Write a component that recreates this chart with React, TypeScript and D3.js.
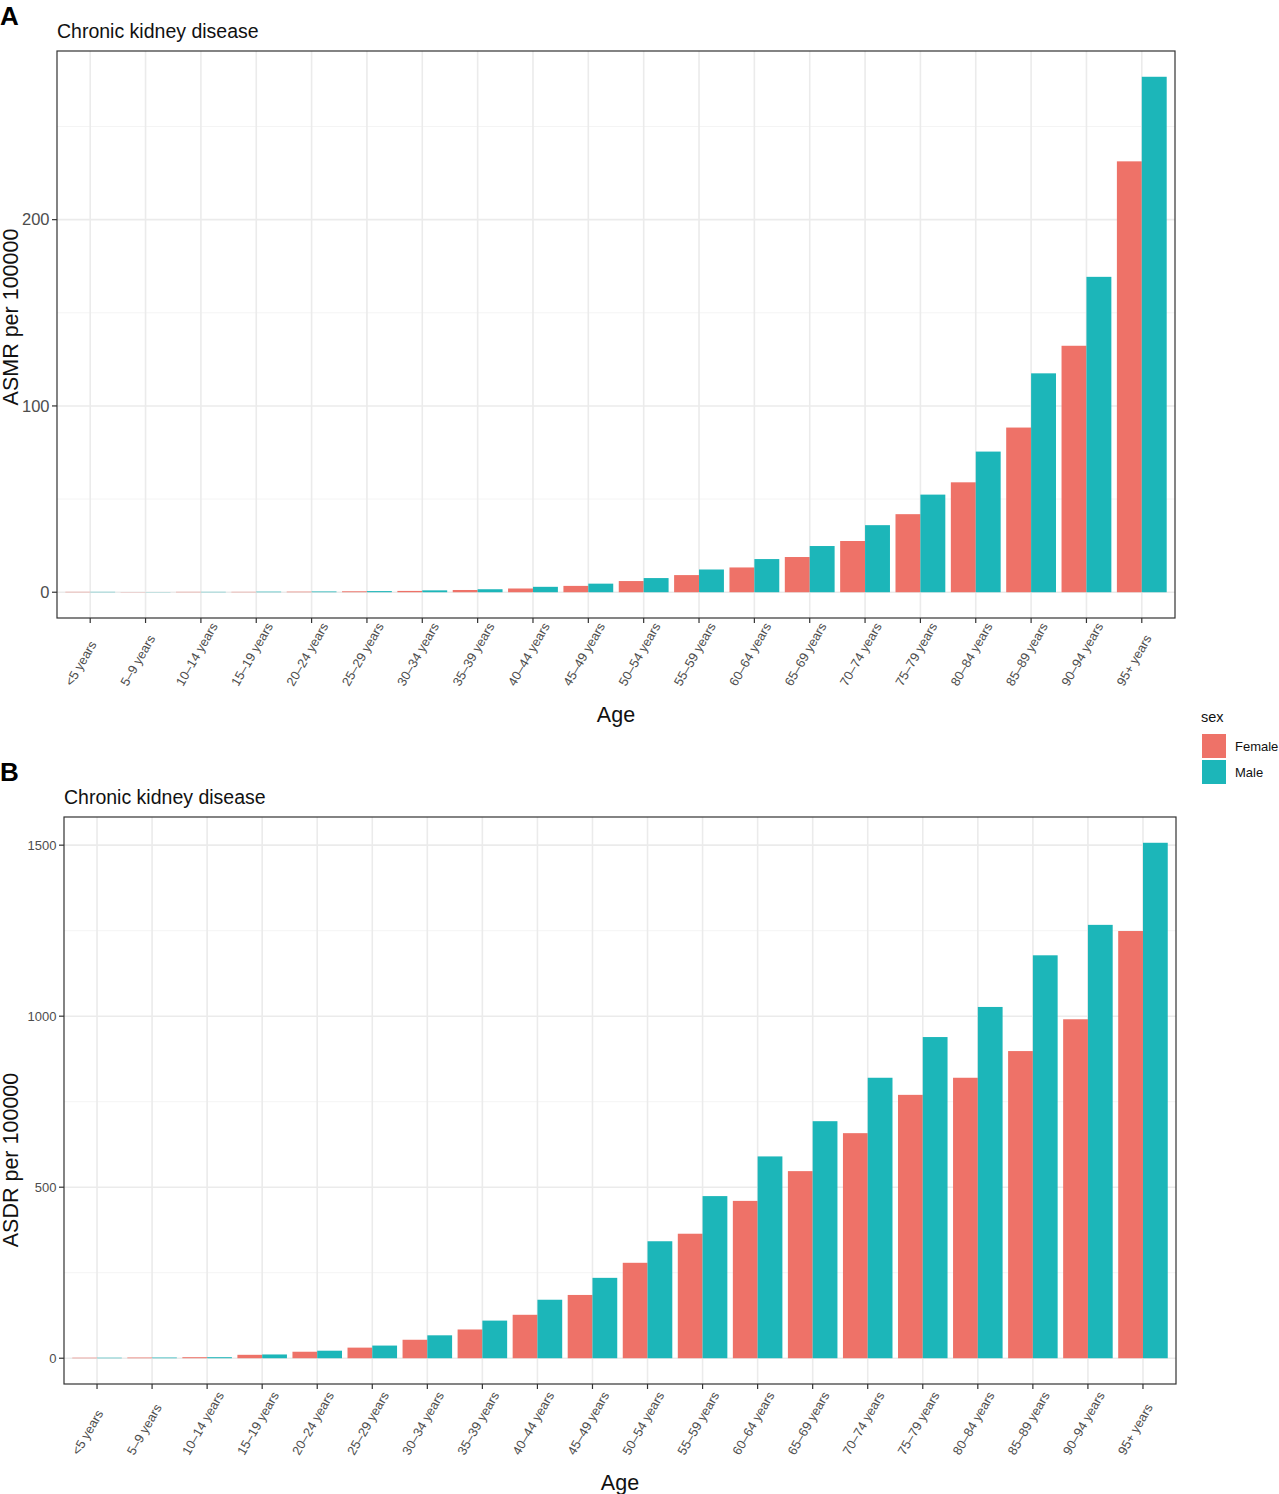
import React, { useEffect, useRef } from 'react';
import * as d3 from 'd3';

const ageGroups = [
  '<5 years', '5-9 years', '10-14 years', '15-19 years', '20-24 years',
  '25-29 years', '30-34 years', '35-39 years', '40-44 years', '45-49 years',
  '50-54 years', '55-59 years', '60-64 years', '65-69 years', '70-74 years',
  '75-79 years', '80-84 years', '85-89 years', '90-94 years', '95+ years',
];

const sexes = ['Female', 'Male'];

// ASMR per 100000 (panel A)
const asmrFemale = [0.2, 0.1, 0.2, 0.2, 0.3, 0.5, 0.7, 1.2, 2.0, 3.4, 6.0, 9.2, 13.3, 18.9, 27.5, 41.9, 59.0, 88.4, 132.3, 231.3];
const asmrMale = [0.2, 0.1, 0.2, 0.3, 0.4, 0.6, 1.0, 1.6, 2.9, 4.6, 7.6, 12.2, 17.8, 24.8, 36.0, 52.4, 75.5, 117.5, 169.3, 276.7];

// ASDR per 100000 (panel B)
const asdrFemale = [1.5, 2, 3, 10, 19, 31, 54, 84, 127, 185, 279, 364, 460, 547, 658, 770, 820, 898, 991, 1249];
const asdrMale = [1.5, 2, 3, 11, 22, 37, 67, 110, 171, 235, 342, 474, 590, 693, 820, 939, 1027, 1178, 1267, 1507];

const asmrTicks = [0, 100, 200];
const asmrMinor = [50, 150, 250];
const asdrTicks = [0, 500, 1000, 1500];
const asdrMinor = [250, 750, 1250];

const W = 1279;
const H = 1494;
const FONT = '"Liberation Sans", Arial, Helvetica, sans-serif';
const colors = ['#EE7268', '#1CB6B9'];

interface PanelOpts {
  tag: string;
  yTitle: string;
  female: number[];
  male: number[];
  ticks: number[];
  minor: number[];
  left: number;
  right: number;
  top: number;
  bottom: number;
  tickFont: number;
  titleY: number;
  tagY: number;
  ageY: number;
  yTitleMid: number;
  labelDy: number;
}

function drawPanel(svg: d3.Selection<SVGSVGElement, unknown, null, undefined>, o: PanelOpts) {
  const g = svg.append('g');
  const maxV = d3.max([...o.female, ...o.male]) as number;
  const y = d3.scaleLinear().domain([-0.05 * maxV, 1.05 * maxV]).range([o.bottom, o.top]);
  const x = d3.scaleLinear().domain([0.4, ageGroups.length + 0.6]).range([o.left, o.right]);

  g.append('rect')
    .attr('x', o.left).attr('y', o.top)
    .attr('width', o.right - o.left).attr('height', o.bottom - o.top)
    .attr('fill', 'white');

  // grid
  g.selectAll('.minor').data(o.minor).enter().append('line')
    .attr('x1', o.left).attr('x2', o.right)
    .attr('y1', d => y(d)).attr('y2', d => y(d))
    .attr('stroke', '#f4f4f4').attr('stroke-width', 1);
  g.selectAll('.major').data(o.ticks).enter().append('line')
    .attr('x1', o.left).attr('x2', o.right)
    .attr('y1', d => y(d)).attr('y2', d => y(d))
    .attr('stroke', '#ebebeb').attr('stroke-width', 1.6);
  g.selectAll('.vgrid').data(ageGroups).enter().append('line')
    .attr('x1', (d, i) => x(i + 1)).attr('x2', (d, i) => x(i + 1))
    .attr('y1', o.top).attr('y2', o.bottom)
    .attr('stroke', '#ebebeb').attr('stroke-width', 1.6);

  // bars
  const series = [o.female, o.male];
  series.forEach((vals, s) => {
    g.selectAll(`.bar${s}`).data(vals).enter().append('rect')
      .attr('x', (d, i) => x(i + 1 - 0.45 + s * 0.45))
      .attr('width', x(1.45) - x(1))
      .attr('y', d => y(d))
      .attr('height', d => y(0) - y(d))
      .attr('fill', colors[s]);
  });

  // border
  g.append('rect')
    .attr('x', o.left).attr('y', o.top)
    .attr('width', o.right - o.left).attr('height', o.bottom - o.top)
    .attr('fill', 'none').attr('stroke', '#333').attr('stroke-width', 1.2);

  // y axis
  const yTick = g.selectAll('.ytick').data(o.ticks).enter().append('g')
    .attr('transform', d => `translate(${o.left},${y(d)})`);
  yTick.append('line').attr('x1', -5).attr('x2', 0).attr('stroke', '#333').attr('stroke-width', 1.2);
  yTick.append('text')
    .attr('x', -7.5).attr('dy', '0.35em')
    .attr('text-anchor', 'end')
    .attr('font-size', o.tickFont)
    .attr('fill', '#4d4d4d')
    .text(d => d);

  // x axis
  const xTick = g.selectAll('.xtick').data(ageGroups).enter().append('g')
    .attr('transform', (d, i) => `translate(${x(i + 1)},${o.bottom})`);
  xTick.append('line').attr('y1', 0).attr('y2', 5).attr('stroke', '#333').attr('stroke-width', 1.2);
  xTick.append('text')
    .attr('transform', `translate(-18,${o.labelDy}) rotate(-60)`)
    .attr('text-anchor', 'start')
    .attr('font-size', 12.8)
    .attr('fill', '#4d4d4d')
    .text(d => d.replace('-', '\u2013'));

  // titles
  g.append('text')
    .attr('x', o.left).attr('y', o.titleY)
    .attr('font-size', 19.5).attr('fill', '#111')
    .text('Chronic kidney disease');
  g.append('text')
    .attr('x', 0).attr('y', o.tagY)
    .attr('font-size', 26).attr('font-weight', 'bold').attr('fill', '#000')
    .text(o.tag);
  g.append('text')
    .attr('transform', `translate(18,${o.yTitleMid}) rotate(-90)`)
    .attr('text-anchor', 'middle')
    .attr('font-size', 21.5).attr('fill', '#111')
    .text(o.yTitle);
  g.append('text')
    .attr('x', (o.left + o.right) / 2).attr('y', o.ageY)
    .attr('text-anchor', 'middle')
    .attr('font-size', 21.5).attr('fill', '#111')
    .text('Age');
}

const App: React.FC = () => {
  const svgRef = useRef<SVGSVGElement>(null);

  useEffect(() => {
    if (!svgRef.current) return;
    const svg = d3.select(svgRef.current);
    svg.selectAll('*').remove();

    drawPanel(svg, {
      tag: 'A', yTitle: 'ASMR per 100000', female: asmrFemale, male: asmrMale,
      ticks: asmrTicks, minor: asmrMinor,
      left: 57, right: 1175, top: 51, bottom: 618, tickFont: 16.5,
      titleY: 38, tagY: 25, ageY: 722, yTitleMid: 317, labelDy: 69,
    });
    drawPanel(svg, {
      tag: 'B', yTitle: 'ASDR per 100000', female: asdrFemale, male: asdrMale,
      ticks: asdrTicks, minor: asdrMinor,
      left: 64, right: 1176, top: 817, bottom: 1384, tickFont: 13,
      titleY: 804, tagY: 781, ageY: 1490, yTitleMid: 1160, labelDy: 72,
    });

    // legend
    const lg = svg.append('g').attr('transform', 'translate(1201,0)');
    lg.append('text').attr('x', 0).attr('y', 722).attr('font-size', 14.5).attr('fill', '#111').text('sex');
    sexes.forEach((s, i) => {
      lg.append('rect')
        .attr('x', 1).attr('y', 734 + i * 26)
        .attr('width', 24).attr('height', 24)
        .attr('fill', colors[i]);
      lg.append('text')
        .attr('x', 34).attr('y', 746 + i * 26).attr('dy', '0.35em')
        .attr('font-size', 13).attr('fill', '#111')
        .text(s);
    });
  }, []);

  return (
    <svg
      ref={svgRef}
      width={W}
      height={H}
      style={{ position: 'absolute', left: 0, top: 0, fontFamily: FONT, background: 'white' }}
    />
  );
};

export default App;
